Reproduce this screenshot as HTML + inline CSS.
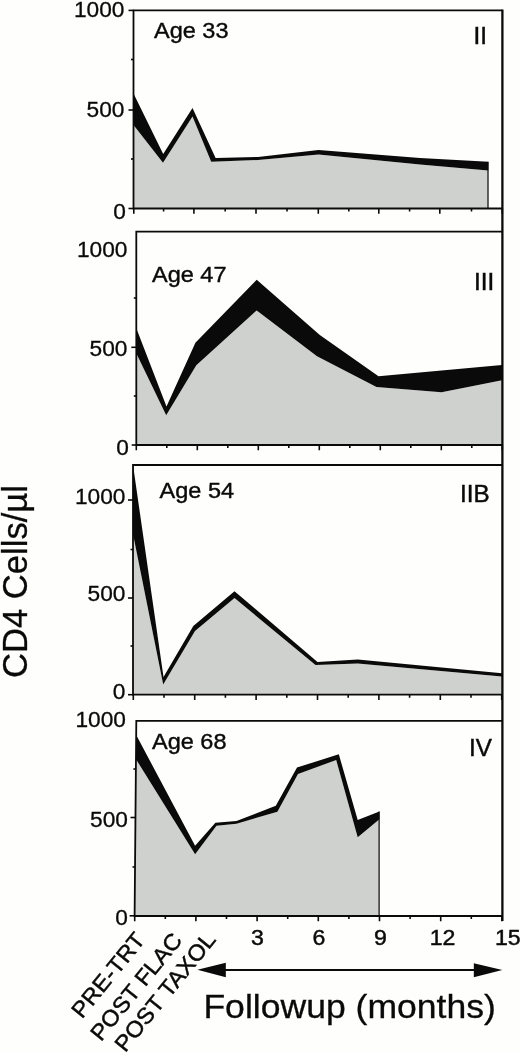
<!DOCTYPE html>
<html lang="en"><head><meta charset="utf-8"><title>CD4 Cells followup</title>
<style>html,body{margin:0;padding:0;background:#fefefd}body{width:520px;height:1053px;overflow:hidden}svg{display:block}text{font-family:"Liberation Sans",sans-serif;fill:#0a0a0a}</style>
</head><body>
<svg width="520" height="1053" viewBox="0 0 520 1053">
<rect x="0" y="0" width="520" height="1053" fill="#fefefd"/>
<polygon points="133.5,125.0 163.0,162.7 192.5,116.5 211.2,161.7 258.0,160.0 318.5,154.5 420.0,164.6 488.3,170.4 488.3,208.5 133.5,208.5" fill="#cfd1ce"/>
<polygon points="133.5,93.5 163.2,154.0 192.5,108.0 215.6,157.9 258.0,157.0 318.5,150.0 420.0,157.9 488.3,161.7 488.3,170.4 420.0,164.6 318.5,154.5 258.0,160.0 211.2,161.7 192.5,116.5 163.0,162.7 133.5,125.0" fill="#0a0a0a"/>
<line x1="488.0" y1="161.7" x2="488.0" y2="208.5" stroke="#0a0a0a" stroke-width="1.2"/>
<path d="M132.6,10.4 H502.2 M133.5,10.4 L133.5,208.5 M132.6,208.5 H502.2" fill="none" stroke="#0a0a0a" stroke-width="1.8"/>
<path d="M133.8,208.5 v5.3 M163.6,208.5 v3.0 M193.9,208.5 v5.3 M225.2,208.5 v3.0 M256.0,208.5 v5.3 M287.0,208.5 v3.0 M318.3,208.5 v5.3 M348.8,208.5 v3.0 M378.8,208.5 v5.3 M409.6,208.5 v3.0 M439.8,208.5 v5.3 M471.5,208.5 v3.0 M502.3,208.5 v5.3" fill="none" stroke="#0a0a0a" stroke-width="1.6"/>
<line x1="128.5" y1="10.4" x2="133.5" y2="10.4" stroke="#0a0a0a" stroke-width="1.6"/>
<text transform="translate(124.5,16.5) scale(1.005,1)" font-size="22.6" text-anchor="end" stroke="#0a0a0a" stroke-width="0.3">1000</text>
<line x1="131.0" y1="59.5" x2="133.5" y2="59.5" stroke="#0a0a0a" stroke-width="1.6"/>
<line x1="128.5" y1="110.0" x2="133.5" y2="110.0" stroke="#0a0a0a" stroke-width="1.6"/>
<text transform="translate(124.5,117.0) scale(1.005,1)" font-size="22.6" text-anchor="end" stroke="#0a0a0a" stroke-width="0.3">500</text>
<line x1="131.0" y1="159.0" x2="133.5" y2="159.0" stroke="#0a0a0a" stroke-width="1.6"/>
<line x1="128.5" y1="208.5" x2="133.5" y2="208.5" stroke="#0a0a0a" stroke-width="1.6"/>
<text transform="translate(125.9,218.8) scale(1.005,1)" font-size="22.6" text-anchor="end" stroke="#0a0a0a" stroke-width="0.3">0</text>
<text transform="translate(154.0,37.5) scale(1.06,1)" font-size="22.2" text-anchor="start" stroke="#0a0a0a" stroke-width="0.4">Age 33</text>
<text transform="translate(473.5,44.2) scale(1.03,1)" font-size="23.5" text-anchor="start" stroke="#0a0a0a" stroke-width="0.45">II</text>
<polygon points="136.5,353.7 166.2,415.2 196.3,365.2 256.7,310.4 317.0,356.2 376.5,387.0 441.5,392.3 502.0,380.3 502.0,445.0 136.5,445.0" fill="#cfd1ce"/>
<polygon points="136.5,328.7 166.5,406.5 195.4,342.7 256.7,279.8 319.8,335.0 378.5,376.3 441.5,370.4 502.0,365.0 502.0,380.3 441.5,392.3 376.5,387.0 317.0,356.2 256.7,310.4 196.3,365.2 166.2,415.2 136.5,353.7" fill="#0a0a0a"/>
<path d="M135.4,231.7 H502.2 M136.3,231.7 L136.3,445.0 M135.4,445.0 H502.2" fill="none" stroke="#0a0a0a" stroke-width="1.8"/>
<path d="M136.3,445.0 v5.3 M166.8,445.0 v3.0 M197.3,445.0 v5.3 M227.8,445.0 v3.0 M258.3,445.0 v5.3 M288.8,445.0 v3.0 M319.3,445.0 v5.3 M349.8,445.0 v3.0 M380.3,445.0 v5.3 M410.8,445.0 v3.0 M441.3,445.0 v5.3 M471.8,445.0 v3.0 M502.3,445.0 v5.3" fill="none" stroke="#0a0a0a" stroke-width="1.6"/>
<text transform="translate(127.5,257.1) scale(1.005,1)" font-size="22.6" text-anchor="end" stroke="#0a0a0a" stroke-width="0.3">1000</text>
<line x1="133.8" y1="298.0" x2="136.3" y2="298.0" stroke="#0a0a0a" stroke-width="1.6"/>
<line x1="131.3" y1="347.3" x2="136.3" y2="347.3" stroke="#0a0a0a" stroke-width="1.6"/>
<text transform="translate(127.5,355.9) scale(1.005,1)" font-size="22.6" text-anchor="end" stroke="#0a0a0a" stroke-width="0.3">500</text>
<line x1="133.8" y1="396.0" x2="136.3" y2="396.0" stroke="#0a0a0a" stroke-width="1.6"/>
<line x1="131.7" y1="445.0" x2="136.3" y2="445.0" stroke="#0a0a0a" stroke-width="1.6"/>
<text transform="translate(128.8,455.1) scale(1.005,1)" font-size="22.6" text-anchor="end" stroke="#0a0a0a" stroke-width="0.3">0</text>
<text transform="translate(152.0,282.0) scale(1.06,1)" font-size="22.2" text-anchor="start" stroke="#0a0a0a" stroke-width="0.4">Age 47</text>
<text transform="translate(474.0,289.7) scale(1.03,1)" font-size="23.5" text-anchor="start" stroke="#0a0a0a" stroke-width="0.45">III</text>
<polygon points="133.0,534.0 163.2,684.6 195.0,631.0 234.5,598.0 315.5,665.0 357.7,663.4 502.0,676.5 502.0,694.7 133.0,694.7" fill="#cfd1ce"/>
<polygon points="133.0,465.0 163.5,677.0 193.3,626.0 234.5,591.2 317.5,662.0 357.7,659.6 502.0,673.3 502.0,676.5 357.7,663.4 315.5,665.0 234.5,598.0 195.0,631.0 163.2,684.6 133.0,534.0" fill="#0a0a0a"/>
<path d="M132.1,465.0 H502.2 M133.0,465.0 L133.0,694.7 M132.1,694.7 H502.2" fill="none" stroke="#0a0a0a" stroke-width="1.8"/>
<path d="M133.3,694.7 v5.3 M164.0,694.7 v3.0 M194.7,694.7 v5.3 M225.4,694.7 v3.0 M256.1,694.7 v5.3 M286.8,694.7 v3.0 M317.5,694.7 v5.3 M348.2,694.7 v3.0 M378.9,694.7 v5.3 M409.6,694.7 v3.0 M440.3,694.7 v5.3 M471.0,694.7 v3.0 M501.7,694.7 v5.3" fill="none" stroke="#0a0a0a" stroke-width="1.6"/>
<line x1="128.0" y1="500.0" x2="133.0" y2="500.0" stroke="#0a0a0a" stroke-width="1.6"/>
<text transform="translate(125.5,504.4) scale(1.005,1)" font-size="22.6" text-anchor="end" stroke="#0a0a0a" stroke-width="0.3">1000</text>
<line x1="130.5" y1="549.5" x2="133.0" y2="549.5" stroke="#0a0a0a" stroke-width="1.6"/>
<line x1="128.0" y1="598.0" x2="133.0" y2="598.0" stroke="#0a0a0a" stroke-width="1.6"/>
<text transform="translate(125.5,601.0) scale(1.005,1)" font-size="22.6" text-anchor="end" stroke="#0a0a0a" stroke-width="0.3">500</text>
<line x1="130.5" y1="646.0" x2="133.0" y2="646.0" stroke="#0a0a0a" stroke-width="1.6"/>
<line x1="128.0" y1="694.7" x2="133.0" y2="694.7" stroke="#0a0a0a" stroke-width="1.6"/>
<text transform="translate(125.5,699.2) scale(1.005,1)" font-size="22.6" text-anchor="end" stroke="#0a0a0a" stroke-width="0.3">0</text>
<text transform="translate(159.6,497.5) scale(1.06,1)" font-size="22.2" text-anchor="start" stroke="#0a0a0a" stroke-width="0.4">Age 54</text>
<text transform="translate(460.0,501.5) scale(1.03,1)" font-size="23.5" text-anchor="start" stroke="#0a0a0a" stroke-width="0.45">IIB</text>
<polygon points="136.0,759.2 195.1,854.3 216.5,825.7 236.5,823.8 277.4,811.7 298.0,774.1 336.2,760.0 357.7,837.2 379.4,819.2 379.4,916.0 134.6,916.0" fill="#cfd1ce"/>
<polygon points="136.2,735.0 195.1,845.8 215.4,822.7 236.5,820.9 275.8,805.8 297.0,767.6 338.8,754.2 357.7,820.0 379.4,811.5 379.4,819.2 357.7,837.2 336.2,760.0 298.0,774.1 277.4,811.7 236.5,823.8 216.5,825.7 195.1,854.3 136.0,759.2" fill="#0a0a0a"/>
<line x1="379.1" y1="811.5" x2="379.1" y2="916.0" stroke="#0a0a0a" stroke-width="1.2"/>
<path d="M135.4,720.9 H502.2 M136.3,720.9 L134.6,916.0 M133.7,916.0 H502.2" fill="none" stroke="#0a0a0a" stroke-width="1.8"/>
<path d="M134.7,916.0 v5.3 M165.3,916.0 v3.0 M195.9,916.0 v5.3 M226.5,916.0 v3.0 M257.1,916.0 v5.3 M287.7,916.0 v3.0 M318.3,916.0 v5.3 M348.9,916.0 v3.0 M379.5,916.0 v5.3 M410.1,916.0 v3.0 M440.7,916.0 v5.3 M471.3,916.0 v3.0 M501.9,916.0 v5.3" fill="none" stroke="#0a0a0a" stroke-width="1.6"/>
<text transform="translate(126.0,726.5) scale(1.005,1)" font-size="22.6" text-anchor="end" stroke="#0a0a0a" stroke-width="0.3">1000</text>
<line x1="133.4" y1="769.0" x2="135.9" y2="769.0" stroke="#0a0a0a" stroke-width="1.6"/>
<line x1="130.5" y1="817.5" x2="135.5" y2="817.5" stroke="#0a0a0a" stroke-width="1.6"/>
<text transform="translate(128.0,827.0) scale(1.005,1)" font-size="22.6" text-anchor="end" stroke="#0a0a0a" stroke-width="0.3">500</text>
<line x1="132.5" y1="867.0" x2="135.0" y2="867.0" stroke="#0a0a0a" stroke-width="1.6"/>
<line x1="129.6" y1="915.8" x2="134.6" y2="915.8" stroke="#0a0a0a" stroke-width="1.6"/>
<text transform="translate(128.0,925.3) scale(1.005,1)" font-size="22.6" text-anchor="end" stroke="#0a0a0a" stroke-width="0.3">0</text>
<text transform="translate(152.0,748.8) scale(1.06,1)" font-size="22.2" text-anchor="start" stroke="#0a0a0a" stroke-width="0.4">Age 68</text>
<text transform="translate(469.0,755.5) scale(1.03,1)" font-size="23.5" text-anchor="start" stroke="#0a0a0a" stroke-width="0.45">IV</text>
<line x1="502.4" y1="9.5" x2="502.4" y2="921" stroke="#0a0a0a" stroke-width="2.3"/>
<text transform="translate(257.5,944.6) scale(1.05,1)" font-size="22" text-anchor="middle" stroke="#0a0a0a" stroke-width="0.45">3</text>
<text transform="translate(319.0,944.6) scale(1.05,1)" font-size="22" text-anchor="middle" stroke="#0a0a0a" stroke-width="0.45">6</text>
<text transform="translate(380.5,944.6) scale(1.05,1)" font-size="22" text-anchor="middle" stroke="#0a0a0a" stroke-width="0.45">9</text>
<text transform="translate(442.5,944.6) scale(1.05,1)" font-size="22" text-anchor="middle" stroke="#0a0a0a" stroke-width="0.45">12</text>
<text transform="translate(495.0,944.6) scale(1.05,1)" font-size="22" text-anchor="start" stroke="#0a0a0a" stroke-width="0.45">15</text>
<text transform="translate(146.2,940.3) rotate(-51) scale(1.05,1)" font-size="22.5" text-anchor="end" stroke="#0a0a0a" stroke-width="0.45">PRE-TRT</text>
<text transform="translate(183.2,940.7) rotate(-51) scale(1.05,1)" font-size="22.5" text-anchor="end" stroke="#0a0a0a" stroke-width="0.45">POST FLAC</text>
<text transform="translate(216.8,940.0) rotate(-51) scale(1.05,1)" font-size="22.5" text-anchor="end" stroke="#0a0a0a" stroke-width="0.45">POST TAXOL</text>
<line x1="215" y1="969.9" x2="486" y2="969.9" stroke="#0a0a0a" stroke-width="2"/>
<polygon points="197.4,969.8 225.8,962.8 225.8,977.2" fill="#0a0a0a"/>
<polygon points="502.3,970 473.8,963.3 473.8,977.2" fill="#0a0a0a"/>
<text transform="translate(203.4,1017.5) scale(1.068,1)" font-size="33.3" text-anchor="start" stroke="#0a0a0a" stroke-width="0.3">Followup (months)</text>
<text transform="translate(27.3,678.0) rotate(-90) scale(1,1.035)" font-size="34.6" text-anchor="start" stroke="#0a0a0a" stroke-width="0.3">CD4 Cells/µl</text>
</svg></body></html>
